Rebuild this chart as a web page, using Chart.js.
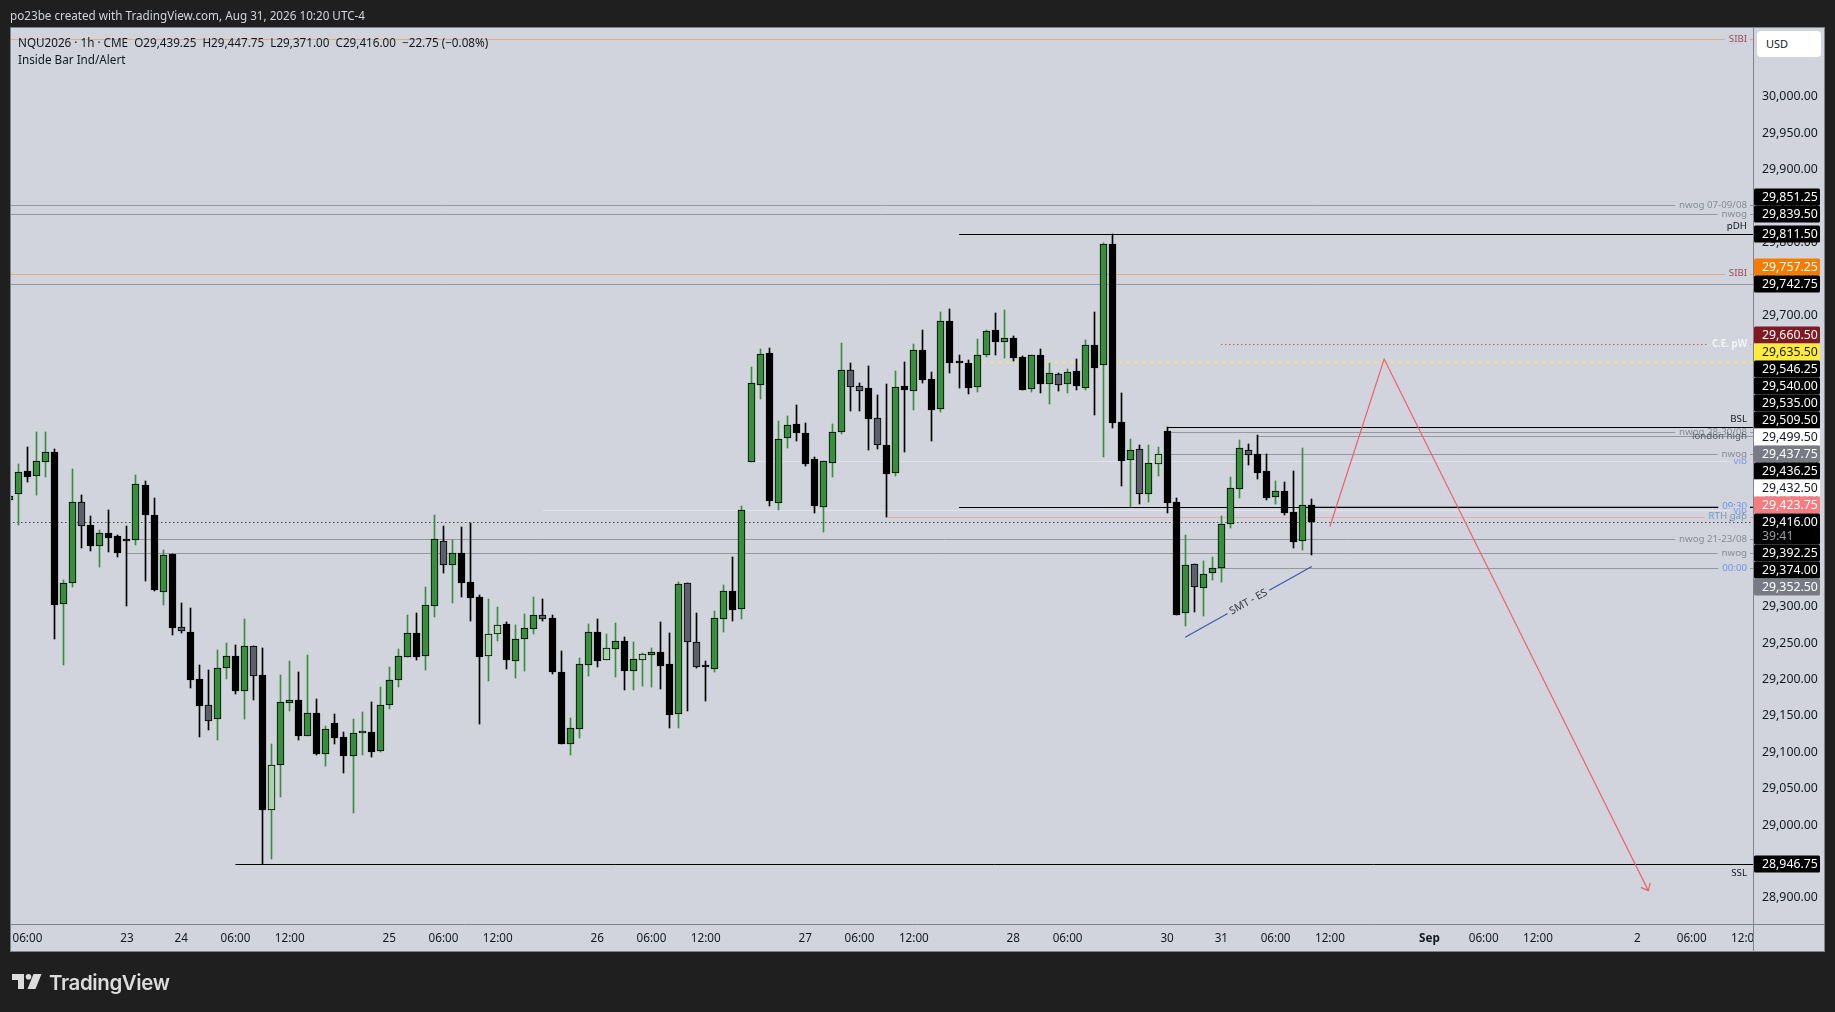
<!DOCTYPE html>
<html lang="en">
<head>
    <meta charset="UTF-8">
    <title>NQU2026 1h</title>
    <script src="https://cdn.jsdelivr.net/npm/chart.js"></script>
    <style>
        html, body {
            margin: 0;
            padding: 0;
            width: 1835px;
            height: 1012px;
            overflow: hidden;
            background-color: #1f1f1f;
            font-family: "Noto Sans", sans-serif;
        }
        canvas { position: absolute; left: 0; top: 0; }
        .txt { position: absolute; white-space: pre; }
        #title { left: 10px; top: 7px; font-size: 11.7px; line-height: 16px; color: #d1d4dc; }
        #legend1 { left: 18px; top: 34px; font-size: 11.7px; line-height: 16px; color: #131722; }
        #legend2 { left: 18px; top: 51px; font-size: 11.7px; line-height: 16px; color: #131722; }
        #usd {
            left: 1757px; top: 31px; width: 55px; height: 26px; line-height: 26px;
            padding-left: 9px; background: #ffffff; border-radius: 4px;
            font-size: 11px; color: #131722;
        }
        #brand {
            left: 49px; top: 970px; font-family: Inter, sans-serif; font-weight: 600;
            font-size: 20.5px; letter-spacing: -0.4px; color: #dcdcdc;
        }
        #logo { position: absolute; left: 12px; top: 974px; }
    </style>
</head>
<body>

<canvas id="priceChart" width="1835" height="1012"></canvas>

<div class="txt" id="title">po23be created with TradingView.com, Aug 31, 2026 10:20 UTC-4</div>
<div class="txt" id="legend1">NQU2026 · 1h · CME  O29,439.25  H29,447.75  L29,371.00  C29,416.00  −22.75 (−0.08%)</div>
<div class="txt" id="legend2">Inside Bar Ind/Alert</div>
<div class="txt" id="usd">USD</div>
<svg id="logo" width="30" height="15" viewBox="0 0 30 15">
    <path d="M0 0h12v15h-6v-9h-6z" fill="#dcdcdc"/>
    <circle cx="16.5" cy="2.8" r="2.8" fill="#dcdcdc"/>
    <path d="M21.5 0h8l-6 15h-8z" fill="#dcdcdc"/>
</svg>
<div class="txt" id="brand">TradingView</div>

<script>
    // Hourly candles
    const opens = [
        29447, 29454.25, 29486, 29480, 29499, 29512.5, 29303, 29332, 29443.25, 29411.75,
        29383, 29400.75, 29397, 29392.5, 29391, 29466.5, 29425.5, 29320.5, 29372, 29271.5,
        29264.75, 29200.25, 29164.5, 29146.25, 29215.25, 29231.75, 29184.5, 29245.5, 29205.75, 29021.25,
        29083, 29168.25, 29171.5, 29122.75, 29153.5, 29098, 29139.75, 29120.5, 29095.5, 29126.5,
        29127.5, 29102.25, 29164.5, 29199.75, 29231.25, 29263.5, 29232.75, 29301.5, 29389.75, 29357.75,
        29373.25, 29333.5, 29313.25, 29232.75, 29263, 29276.25, 29225.75, 29256, 29269.75, 29288,
        29284.5, 29210.25, 29112, 29132.5, 29220.5, 29264.75, 29227.25, 29242.25, 29252.5, 29212,
        29227.25, 29234, 29237.25, 29220.75, 29152, 29332, 29251, 29218, 29215, 29283.5,
        29321, 29297.25, 29499.25, 29605, 29648, 29443, 29532.25, 29550.5, 29538, 29502.5,
        29437.5, 29497.75, 29539.5, 29624.5, 29602.5, 29600, 29558.75, 29521.5, 29484, 29602.5,
        29596.75, 29652, 29612.25, 29572, 29692, 29635.5, 29634.25, 29602.25, 29646, 29679.5,
        29664, 29668.5, 29642.5, 29599.5, 29645.25, 29606.25, 29619, 29606.25, 29623.25, 29600.75,
        29659, 29632.5, 29797.75, 29553.25, 29502, 29516, 29455.25, 29496.5, 29541, 29443.25,
        29290.75, 29358.25, 29325.25, 29345.75, 29352.5, 29414, 29462, 29515.5, 29509.25, 29486,
        29451, 29458.5, 29429.5, 29389.75, 29439.25
    ];
    const highs = [
        29453, 29496, 29519.25, 29540, 29540, 29516.5, 29336.25, 29489, 29453.5, 29424.5,
        29405.25, 29432.75, 29398.5, 29410.75, 29480.75, 29472.5, 29449.25, 29377.75, 29372, 29305,
        29298.25, 29220, 29213, 29240.5, 29250, 29247.5, 29283, 29245.5, 29243.25, 29111.5,
        29206.25, 29225.5, 29210.25, 29233.5, 29173.25, 29136, 29152.5, 29128, 29145.75, 29155.25,
        29169, 29189.75, 29217, 29242, 29288.5, 29291.25, 29327, 29426, 29410.75, 29391.5,
        29409.5, 29415, 29316, 29310, 29299.5, 29279, 29274.75, 29290, 29313.25, 29310.5,
        29288.5, 29239, 29147, 29229.5, 29276.25, 29283, 29262.5, 29277, 29258, 29251,
        29236, 29243.25, 29279, 29263.75, 29333.5, 29332.5, 29291.25, 29225.5, 29294, 29329.75,
        29368.25, 29438.25, 29629.25, 29654, 29655.25, 29555, 29562, 29577, 29552.25, 29505,
        29499.75, 29551, 29662.25, 29634.75, 29606.75, 29630.5, 29590.75, 29606, 29623.75, 29636,
        29660.75, 29680, 29622, 29704.75, 29709, 29645.75, 29638.75, 29667.75, 29680, 29703.5,
        29707.5, 29671.75, 29644.25, 29645.25, 29654, 29634.75, 29620.5, 29626.5, 29640.25, 29666.25,
        29704.75, 29799.5, 29811.5, 29593.5, 29530.25, 29522, 29522, 29519.25, 29546.25, 29448.75,
        29398.5, 29358.25, 29362.75, 29368.25, 29424.5, 29478, 29529, 29523.5, 29535.75, 29509.75,
        29472.5, 29471.25, 29486.25, 29518, 29447.75
    ];
    const lows = [
        29446, 29412.25, 29471.75, 29453.5, 29478.5, 29255.5, 29220, 29327.5, 29380.5, 29376.5,
        29354.5, 29375, 29368.25, 29301, 29384.75, 29335.25, 29321.5, 29302.25, 29261, 29263.75,
        29188.25, 29121, 29130.5, 29117, 29200.75, 29180, 29145.75, 29171.75, 28946.75, 28953.5,
        29038.5, 29156.75, 29117, 29122.75, 29096.25, 29081.25, 29111.5, 29071.5, 29016.5, 29096.25,
        29093.5, 29100.5, 29159.5, 29189.75, 29231.25, 29226.75, 29213, 29285.75, 29346.25, 29305,
        29313.75, 29280.75, 29139.25, 29198, 29253, 29214.5, 29202, 29211.75, 29262.5, 29280.25,
        29207.5, 29112, 29096.25, 29119.5, 29204.75, 29217, 29227, 29203.5, 29185.5, 29185.5,
        29191, 29189.75, 29187, 29133.5, 29133.5, 29156.75, 29215.75, 29170.5, 29210.25, 29265.25,
        29280.25, 29283, 29499.25, 29585.25, 29438.25, 29432.75, 29518, 29527.5, 29493.25, 29428.75,
        29402.5, 29478, 29537.25, 29568.75, 29568.75, 29515.25, 29516.5, 29423.75, 29479.5, 29512.5,
        29570.25, 29607.25, 29527.5, 29567.5, 29621, 29600.5, 29592, 29595, 29643, 29645.75,
        29641.5, 29637.5, 29598, 29595, 29593.5, 29578.5, 29596.25, 29593.5, 29597.5, 29597.5,
        29563.25, 29505.5, 29545.5, 29465.75, 29437, 29441, 29443.75, 29479.5, 29428.75, 29289,
        29273.5, 29292.75, 29287.25, 29336.5, 29334, 29408, 29449.25, 29494.5, 29475.5, 29446.5,
        29441, 29426, 29380.5, 29377.75, 29371
    ];
    const closes = [
        29452.5, 29484.5, 29478.5, 29499.5, 29512, 29302.75, 29332, 29443.25, 29411.25, 29383.75,
        29400.75, 29394.75, 29374.25, 29390.75, 29468, 29426.5, 29323, 29370.5, 29271.25, 29266,
        29199.75, 29164, 29143.5, 29215.25, 29231.75, 29184.5, 29245.5, 29205.25, 29021.25, 29082,
        29168.5, 29171.5, 29122.75, 29153.5, 29098, 29131.5, 29120, 29095.5, 29126, 29127,
        29101, 29164.5, 29198.75, 29231.75, 29263.5, 29231.25, 29301.75, 29392.5, 29357.75, 29373.25,
        29333, 29312.5, 29231.25, 29262, 29274.5, 29227.25, 29255, 29270.25, 29288, 29283.5,
        29210.25, 29112, 29133, 29220.75, 29264.75, 29225.75, 29242.75, 29252.5, 29212, 29227.75,
        29234.5, 29237.25, 29219, 29151.75, 29330.75, 29252, 29217.5, 29217.5, 29284, 29321,
        29296, 29432.25, 29606.75, 29646.5, 29445.5, 29530, 29549, 29539, 29496.5, 29438.75,
        29499.75, 29539.5, 29624.5, 29602.25, 29596.75, 29558.25, 29522.5, 29482.75, 29601.25, 29598,
        29652, 29611.75, 29570.5, 29692, 29635.25, 29635.25, 29600.75, 29645.25, 29678.25, 29664,
        29668.5, 29642, 29598, 29645.25, 29606.25, 29620.5, 29605, 29622, 29603.5, 29659,
        29628.25, 29797.75, 29552.75, 29500.5, 29514.75, 29455.25, 29497, 29509.25, 29443, 29289,
        29356.75, 29326.5, 29344.5, 29352.5, 29414, 29462.5, 29517.5, 29507.75, 29484, 29449.75,
        29458.5, 29429, 29389.25, 29439.25, 29416
    ];
    // Bars the Inside Bar indicator recoloured
    const insideBars = [8, 19, 22, 27, 29, 48, 53, 54, 59, 66, 70, 75, 76, 93, 94, 96, 116, 125, 127, 131, 137];

    const priceTicks = [];
    for (let p = 28900; p <= 30000; p += 50) priceTicks.push(p);

    const timeTickBars = [2, 13, 19, 25, 31, 42, 48, 54, 65, 71, 77, 88, 94, 100, 111, 117, 128, 134, 140, 146, 157, 163, 169, 180, 186, 192];
    const timeTickLabels = ['06:00', '23', '24', '06:00', '12:00', '25', '06:00', '12:00', '26', '06:00', '12:00', '27', '06:00', '12:00', '28', '06:00', '30', '31', '06:00', '12:00', 'Sep', '06:00', '12:00', '2', '06:00', '12:00'];

    // Horizontal levels: price, first bar, label, kind
    const levelPrices = [30079.25, 29851.25, 29839.5, 29811.5, 29757.25, 29742.75, 29660.5, 29635.5, 29546.25, 29540, 29535, 29509.5, 29499.5, 29437.75, 29436.25, 29432.5, 29423.75, 29416, 29392.25, 29374, 29352.5, 28946.75];
    const levelStarts = [0, 0, 0, 105, 0, 0, 134, 105, 128, 128, 138, 128, 82, 144, 105, 59, 97, 0, 14, 13, 133, 25];
    const levelLabels = ['SIBI', 'nwog 07-09/08', 'nwog', 'pDH', 'SIBI', '', 'C.E. pW', '', 'BSL', 'nwog 28-30/08', 'london high', 'nwog', 'vib', '09:30', 'pDL', 'vib', 'RTH gap', '', 'nwog 21-23/08', 'nwog', '00:00', 'SSL'];
    const levelKinds = ['sibi', 'nwog', 'nwog', 'above', 'sibi', 'nwog', 'ce', 'fvg', 'above', 'nwog', 'london', 'nwog', 'vib', 'session', 'below', 'vib', 'rth', 'last', 'nwog', 'nwog', 'session', 'below'];

    // Price tags on the axis, top to bottom
    const tagPrices = [29851.25, 29839.5, 29811.5, 29757.25, 29742.75, 29660.5, 29635.5, 29546.25, 29540, 29535, 29509.5, 29499.5, 29437.75, 29436.25, 29432.5, 29423.75, 29416, 29392.25, 29374, 29352.5, 28946.75];
    const tagKinds = ['black', 'black', 'black', 'orange', 'black', 'maroon', 'yellow', 'black', 'black', 'black', 'black', 'white', 'gray', 'black', 'white', 'pink', 'black', 'black', 'black', 'gray', 'black'];
    const lastPrice = 29416;
    const countdown = '39:41';

    // Drawn forecast and divergence lines
    const forecastBars = [146, 152, 181.2];
    const forecastPrices = [29410, 29640, 28910];
    const smtBars = [130, 144];
    const smtPrices = [29258, 29355];

    const bg = '#d1d4dc';
    const frame = '#7f838f';
    const uiFont = '"Noto Sans", sans-serif';

    const levelStyles = {
        sibi: { line: '#dfab88', text: '#a04a62' },
        nwog: { line: '#9598a1', text: '#888b96' },
        above: { line: '#000000', text: '#131722', place: -8 },
        below: { line: '#000000', text: '#131722', place: 9 },
        ce: { line: '#a5303c', text: '#f4f5f8', dash: [1, 3] },
        fvg: { line: '#ffeb3b', dash: [2, 6], width: 2 },
        london: { line: '#9598a1', text: '#555963', place: 1 },
        vib: { line: '#e0e3eb', text: '#7a9ae8' },
        session: { line: '#9598a1', text: '#6f94ee' },
        rth: { line: '#e8aab0', text: '#7199bd' },
        last: { line: '#000000', dash: [1, 3] }
    };
    const tagStyles = {
        black: { fill: '#000000', text: '#ffffff' },
        orange: { fill: '#f57c00', text: '#ffffff' },
        maroon: { fill: '#801922', text: '#ffffff' },
        yellow: { fill: '#ffeb3b', text: '#131722' },
        white: { fill: '#ffffff', text: '#131722' },
        gray: { fill: '#787b86', text: '#ffffff' },
        pink: { fill: '#f77c80', text: '#ffffff' }
    };

    const xMin = 0.185, xMax = 192.78;
    const yMin = 28864.13, yMax = 30094.73;

    const fmtPrice = v => v.toLocaleString('en-US', { minimumFractionDigits: 2, maximumFractionDigits: 2 });
    const barColor = i => {
        const up = closes[i] >= opens[i];
        if (insideBars.includes(i)) return up ? '#a5d6a7' : '#5d606b';
        return up ? '#388e3c' : '#000000';
    };
    const wickColor = i => closes[i] >= opens[i] ? '#388e3c' : '#000000';

    // Level lines sit behind the candles
    const levelSets = levelPrices.map((p, i) => {
        const st = levelStyles[levelKinds[i]];
        return {
            type: 'line', order: 10, pointRadius: 0, borderColor: st.line,
            borderWidth: st.width || 1, borderDash: st.dash || [],
            data: [{ x: levelStarts[i], y: p }, { x: xMax, y: p }]
        };
    });

    const wickSet = {
        type: 'bar', order: 5, grouped: false, barThickness: 1,
        backgroundColor: opens.map((_, i) => wickColor(i)),
        data: opens.map((_, i) => ({ x: i, y: [lows[i], highs[i]] }))
    };
    const bodySet = {
        type: 'bar', order: 4, grouped: false, barThickness: 7, minBarLength: 2,
        borderWidth: 1, borderColor: '#000000', borderSkipped: false,
        backgroundColor: opens.map((_, i) => barColor(i)),
        data: opens.map((o, i) => ({ x: i, y: [o, closes[i]] }))
    };
    const forecastSet = {
        type: 'line', order: 1, pointRadius: 0, borderColor: '#ef5f6c', borderWidth: 1.2, tension: 0,
        data: forecastBars.map((b, i) => ({ x: b, y: forecastPrices[i] }))
    };
    const smtSet = {
        type: 'line', order: 1, pointRadius: 0, borderColor: '#3a5bb0', borderWidth: 1.2,
        data: smtBars.map((b, i) => ({ x: b, y: smtPrices[i] }))
    };

    const panel = {
        id: 'panel',
        beforeDraw(chart) {
            const c = chart.ctx, a = chart.chartArea;
            c.fillStyle = bg;
            c.fillRect(a.left - 1, a.top, 1824 - a.left + 1, 951 - a.top);
        },
        // snap levels and candles to whole pixels so they stay sharp
        beforeDatasetsDraw(chart) {
            chart.data.datasets.forEach((ds, i) => {
                const els = chart.getDatasetMeta(i).data;
                if (ds.order === 10) {
                    els.forEach(el => { el.y = Math.round(el.y) + 0.5; });
                } else if (ds.type === 'bar') {
                    els.forEach(el => {
                        el.x = Math.floor(el.x) + 0.5;
                        el.y = Math.round(el.y);
                        el.base = Math.round(el.base);
                    });
                }
            });
        },
        afterDatasetsDraw(chart) {
            const c = chart.ctx, a = chart.chartArea;
            const xs = chart.scales.x, ys = chart.scales.y;

            // arrow head on the forecast line
            const n = forecastBars.length - 1;
            const tipX = xs.getPixelForValue(forecastBars[n]), tipY = ys.getPixelForValue(forecastPrices[n]);
            const ang = Math.atan2(tipY - ys.getPixelForValue(forecastPrices[n - 1]), tipX - xs.getPixelForValue(forecastBars[n - 1]));
            c.save();
            c.strokeStyle = '#ef5f6c';
            c.lineWidth = 1.2;
            c.beginPath();
            c.moveTo(tipX - 8 * Math.cos(ang - 0.7), tipY - 8 * Math.sin(ang - 0.7));
            c.lineTo(tipX, tipY);
            c.lineTo(tipX - 8 * Math.cos(ang + 0.7), tipY - 8 * Math.sin(ang + 0.7));
            c.stroke();

            // text breaking the SMT line
            const x0 = xs.getPixelForValue(smtBars[0]), y0 = ys.getPixelForValue(smtPrices[0]);
            const x1 = xs.getPixelForValue(smtBars[1]), y1 = ys.getPixelForValue(smtPrices[1]);
            c.translate((x0 + x1) / 2, (y0 + y1) / 2);
            c.rotate(Math.atan2(y1 - y0, x1 - x0));
            c.font = '10.5px ' + uiFont;
            c.textAlign = 'center';
            c.textBaseline = 'middle';
            c.fillStyle = bg;
            c.fillRect(-24, -4, 48, 8);
            c.fillStyle = '#333640';
            c.fillText('SMT - ES', 0, 0);
            c.restore();

            // level labels
            c.save();
            c.textAlign = 'right';
            c.textBaseline = 'middle';
            levelLabels.forEach((t, i) => {
                if (!t) return;
                const st = levelStyles[levelKinds[i]];
                const y = ys.getPixelForValue(levelPrices[i]);
                const right = a.right - 6;
                c.font = (levelKinds[i] === 'ce' ? 'bold ' : '') + '9.7px ' + uiFont;
                if (!st.place) {
                    c.fillStyle = bg;
                    c.fillRect(right - c.measureText(t).width - 4, y - 3, c.measureText(t).width + 7, 6);
                }
                c.fillStyle = st.text;
                c.fillText(t, right, y + (st.place || 0));
            });
            c.restore();
        },
        afterDraw(chart) {
            const c = chart.ctx, a = chart.chartArea, ys = chart.scales.y;

            // time labels are cut off at the price axis
            c.fillStyle = bg;
            c.fillRect(a.right, a.bottom + 1, 1824 - a.right, 951 - a.bottom - 1);

            // frame
            c.strokeStyle = frame;
            c.lineWidth = 1;
            c.strokeRect(a.left - 0.5, a.top - 0.5, 1824 - a.left + 1, 951 - a.top + 1);
            c.beginPath();
            c.moveTo(a.right + 0.5, a.top);
            c.lineTo(a.right + 0.5, 951);
            c.moveTo(a.left, a.bottom + 0.5);
            c.lineTo(1824, a.bottom + 0.5);
            c.stroke();

            // tags push apart outwards from the last price tag
            const h = 17, lastH = 31;
            const tagY = tagPrices.map(p => ys.getPixelForValue(p));
            const li = tagPrices.indexOf(lastPrice);
            for (let i = li - 1; i >= 0; i--) tagY[i] = Math.min(tagY[i], tagY[i + 1] - h);
            for (let i = li + 1; i < tagPrices.length; i++) tagY[i] = Math.max(tagY[i], tagY[i - 1] + (i === li + 1 ? lastH : h));

            c.font = '12.3px ' + uiFont;
            c.textAlign = 'left';
            c.textBaseline = 'middle';
            tagPrices.forEach((p, i) => {
                const st = tagStyles[tagKinds[i]];
                const y = Math.round(tagY[i]);
                c.fillStyle = st.fill;
                c.beginPath();
                c.roundRect(a.right + 1, y - h / 2, 66, i === li ? lastH : h, 1.5);
                c.fill();
                c.fillStyle = st.text;
                c.fillText(fmtPrice(p), 1762, y);
                if (i === li) {
                    c.fillStyle = '#9a9ca3';
                    c.fillText(countdown, 1762, y + 14);
                }
            });
        }
    };

    new Chart(document.getElementById('priceChart'), {
        type: 'bar',
        data: { datasets: [...levelSets, wickSet, bodySet, forecastSet, smtSet] },
        options: {
            responsive: false,
            animation: false,
            devicePixelRatio: 1,
            layout: { autoPadding: false, padding: { left: 11, top: 28, right: 11, bottom: 61 } },
            plugins: { legend: { display: false }, tooltip: { enabled: false } },
            scales: {
                x: {
                    type: 'linear', min: xMin, max: xMax, offset: false,
                    grid: { display: false, offset: false, drawTicks: false },
                    border: { display: false },
                    afterFit: s => { s.height = 27; },
                    afterBuildTicks: s => { s.ticks = timeTickBars.map(v => ({ value: v })); },
                    ticks: {
                        autoSkip: false, maxRotation: 0, padding: 8, color: '#131722',
                        font: c => ({ size: 11.7, family: uiFont, weight: c.tick && c.tick.value === 157 ? 'bold' : 'normal' }),
                        callback: v => timeTickLabels[timeTickBars.indexOf(v)]
                    }
                },
                y: {
                    position: 'right', min: yMin, max: yMax,
                    grid: { display: false, drawTicks: false },
                    border: { display: false },
                    afterFit: s => { s.width = 71; },
                    afterBuildTicks: s => { s.ticks = priceTicks.map(v => ({ value: v })); },
                    ticks: {
                        padding: 9, color: '#131722', autoSkip: false,
                        font: { size: 12.3, family: uiFont },
                        callback: v => fmtPrice(v)
                    }
                }
            }
        },
        plugins: [panel]
    });
</script>

</body>
</html>
